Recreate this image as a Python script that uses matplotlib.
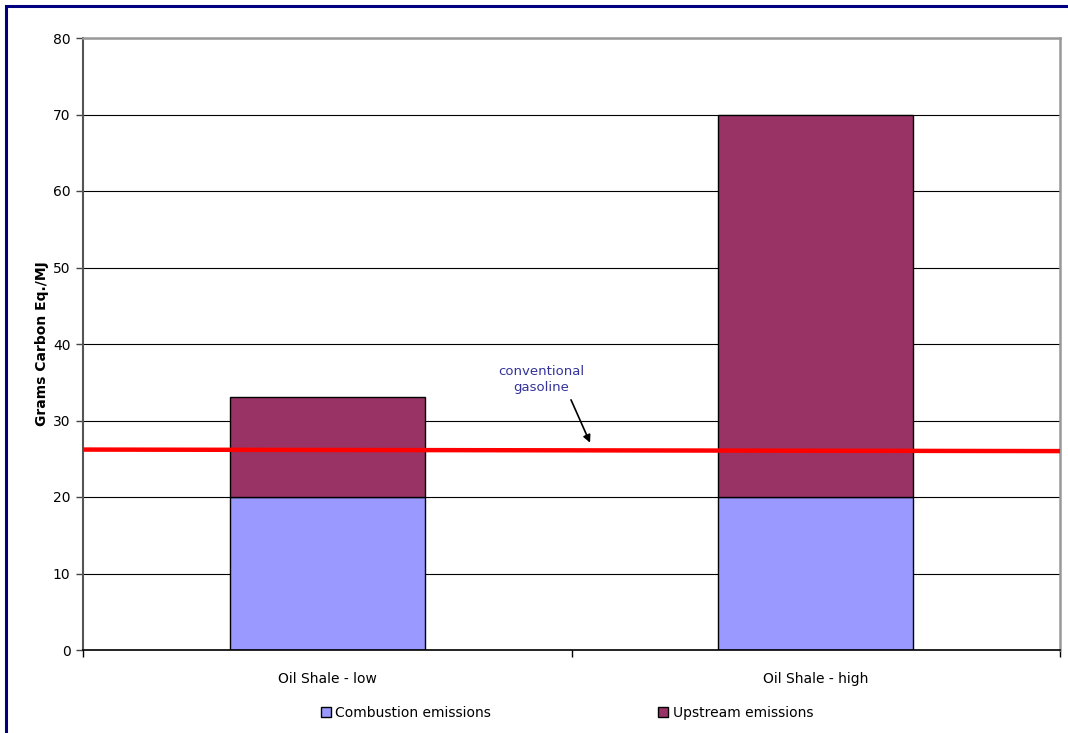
import numpy as np
import matplotlib
matplotlib.use("Agg")
import matplotlib.pyplot as plt
from matplotlib.patches import Rectangle

# data
categories = ['Oil Shale - low', 'Oil Shale - high']
combustion = [20, 20]
upstream = [13.1, 50]
gasoline_x = [-0.5, 1.5]
gasoline_y = [26.2, 26.0]
y_ticks = [0, 10, 20, 30, 40, 50, 60, 70, 80]

plt.rcParams['font.family'] = ['DejaVu Sans']

fig = plt.figure(figsize=(10.68, 7.33), dpi=100)
ax = fig.add_axes([83/1068, 83/733, 977/1068, 612/733])

# navy frame around the whole chart (runs off the right/bottom edge)
fig.patches.append(Rectangle((6/1068, -0.05), 1.1, 1 - 6/733 + 0.05, transform=fig.transFigure,
                             fill=False, edgecolor='#000080', lw=2.2, zorder=0))

x = np.arange(len(categories))
w = 0.4
ax.bar(x, combustion, w, color='#9999FF', edgecolor='black', lw=1, zorder=2,
       label='Combustion emissions')
ax.bar(x, upstream, w, bottom=combustion, color='#993366', edgecolor='black', lw=1, zorder=2,
       label='Upstream emissions')

# conventional gasoline reference
ax.plot(gasoline_x, gasoline_y, color='#FF0000', lw=3.2, zorder=3, solid_capstyle='butt')
ax.text(0.4375, 35.3, 'conventional\ngasoline', ha='center', va='center', fontsize=9.5,
        color='#333399', linespacing=1.3, zorder=4)
ax.annotate('', xy=(0.538, 27.1), xytext=(0.499, 32.7),
            arrowprops=dict(arrowstyle='-|>', color='black', lw=1.2, mutation_scale=11,
                            shrinkA=0, shrinkB=0), zorder=4)

ax.set_xlim(-0.5, 1.5)
ax.set_ylim(0, 80)
ax.set_yticks(y_ticks)
ax.yaxis.grid(True, color='black', lw=0.8, zorder=0)
ax.set_axisbelow(True)

ax.set_xticks([-0.5, 0.5, 1.5])
ax.set_xticklabels([])
ax.set_xticks(x, minor=True)
ax.set_xticklabels(categories, minor=True, fontsize=10)
ax.tick_params(axis='x', which='minor', length=0, pad=16)
ax.tick_params(axis='x', which='major', length=5, width=1, color='black')
ax.tick_params(axis='y', length=5, width=1, color='#444444', labelsize=10, pad=4)

ax.set_ylabel('Grams Carbon Eq./MJ', fontsize=10, fontweight='bold', labelpad=3)

ax.spines['left'].set_color('#555555')
ax.spines['left'].set_linewidth(1.5)
ax.spines['bottom'].set_color('black')
ax.spines['bottom'].set_linewidth(1.2)
for s in ['top', 'right']:
    ax.spines[s].set_color('#999999')
    ax.spines[s].set_linewidth(1.8)

fig.legend(loc='center', bbox_to_anchor=(567/1068, 20/733), ncol=2, frameon=False,
           fontsize=10, handlelength=0.75, handleheight=0.75, handletextpad=0.3,
           columnspacing=12)

fig.savefig('out.png', dpi=100, facecolor='white')
